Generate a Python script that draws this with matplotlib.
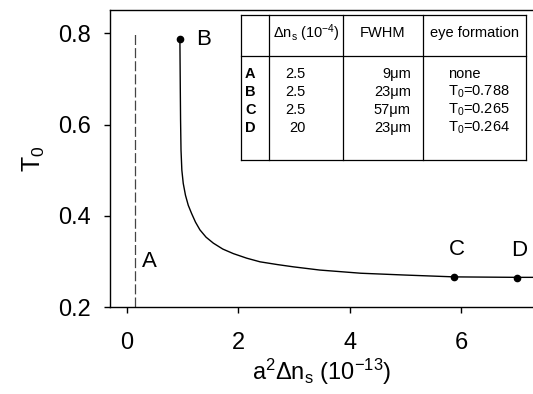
import matplotlib
matplotlib.use("Agg")
import matplotlib.pyplot as plt
import numpy as np

plt.rcParams['font.family'] = ['Liberation Sans', 'DejaVu Sans']
plt.rcParams['mathtext.default'] = 'regular'

# T0 vs a^2 dn_s curve
curve_x = [0.95, 0.953, 0.957, 0.962, 0.97, 0.985, 1.01, 1.05, 1.1, 1.16, 1.23, 1.31, 1.42,
           1.55, 1.72, 1.91, 2.15, 2.39, 2.7, 2.99, 3.46, 4.2, 5.0, 5.88, 7.0, 7.3]
curve_y = [0.788, 0.74, 0.68, 0.61, 0.544, 0.50, 0.471, 0.445, 0.423, 0.405, 0.386, 0.369, 0.353,
           0.340, 0.327, 0.317, 0.307, 0.299, 0.293, 0.288, 0.281, 0.274, 0.270, 0.266, 0.265, 0.265]

# labelled points
pt_names = ['B', 'C', 'D']
pt_x = [0.95, 5.88, 7.0]
pt_y = [0.788, 0.265, 0.264]

# case A: no eye formation
a_x = 0.14
a_ymin, a_ymax = 0.2, 0.8

# table contents
tbl_header = ['', r'Δn$_s$ (10$^{-4}$)', 'FWHM', 'eye formation']
tbl_rows = ['A', 'B', 'C', 'D']
tbl_dn = ['2.5', '2.5', '2.5', '20']
tbl_fwhm = ['9μm', '23μm', '57μm', '23μm']
tbl_eye = ['none', 'T$_0$=0.788', 'T$_0$=0.265', 'T$_0$=0.264']

fig = plt.figure(figsize=(5.33, 3.94), dpi=100)
ax = fig.add_axes([110 / 533, 1 - 307 / 394, 423 / 533, 297 / 394])

ax.plot(curve_x, curve_y, color='black', lw=1.0)
ax.plot(pt_x, pt_y, 'o', color='black', ms=4.5, ls='none')
ax.vlines(a_x, a_ymin, a_ymax, color='#444444', lw=0.9, linestyles=(0, (8, 2.5)))

ax.text(a_x + 0.27, 0.30, 'A', fontsize=16, ha='center', va='center')
ax.text(pt_x[0] + 0.43, pt_y[0] - 0.002, pt_names[0], fontsize=16, ha='center', va='center')
for name, x, y in zip(pt_names[1:], pt_x[1:], pt_y[1:]):
    ax.text(x + 0.04, y + 0.06, name, fontsize=16, ha='center', va='center')

ax.set_xlim(-0.305, 7.29)
ax.set_ylim(0.2, 0.851)
ax.set_xticks([0, 2, 4, 6])
ax.set_yticks([0.2, 0.4, 0.6, 0.8])
ax.set_yticklabels(['0.2', '0.4', '0.6', '0.8'])
ax.tick_params(direction='out', length=4, width=1, labelsize=17)
ax.tick_params(axis='y', pad=10)
ax.tick_params(axis='x', pad=14)
ax.spines['right'].set_visible(False)
for s in ['left', 'bottom', 'top']:
    ax.spines[s].set_linewidth(1.0)

ax.set_xlabel(r'a$^2$Δn$_s$ (10$^{-13}$)', fontsize=17, labelpad=2)
ax.set_ylabel('T$_0$', fontsize=18, labelpad=8)

# table drawn in axes-fraction coordinates
tx = [0.309, 0.376, 0.551, 0.740, 0.983]
ty_top, ty_head, ty_bot = 0.983, 0.846, 0.495
kw = dict(transform=ax.transAxes, color='black', lw=0.9)
for x in tx:
    ax.plot([x, x], [ty_bot, ty_top], **kw)
for y in [ty_top, ty_head, ty_bot]:
    ax.plot([tx[0], tx[-1]], [y, y], **kw)

fs = 10.5
hy = 0.923
ax.text(0.464, hy, tbl_header[1], transform=ax.transAxes, fontsize=fs, ha='center', va='center')
ax.text(0.645, hy, tbl_header[2], transform=ax.transAxes, fontsize=fs, ha='center', va='center')
ax.text(0.862, hy, tbl_header[3], transform=ax.transAxes, fontsize=fs, ha='center', va='center')

row_y = [0.785, 0.725, 0.663, 0.602]
for i, ry in enumerate(row_y):
    ax.text(0.319, ry, tbl_rows[i], transform=ax.transAxes, fontsize=fs, fontweight='bold',
            ha='left', va='center')
    ax.text(0.463, ry, tbl_dn[i], transform=ax.transAxes, fontsize=fs, ha='right', va='center')
    ax.text(0.711, ry, tbl_fwhm[i], transform=ax.transAxes, fontsize=fs, ha='right', va='center')
    ax.text(0.798, ry, tbl_eye[i], transform=ax.transAxes, fontsize=fs, ha='left', va='center')

fig.savefig('out.png', dpi=100)
